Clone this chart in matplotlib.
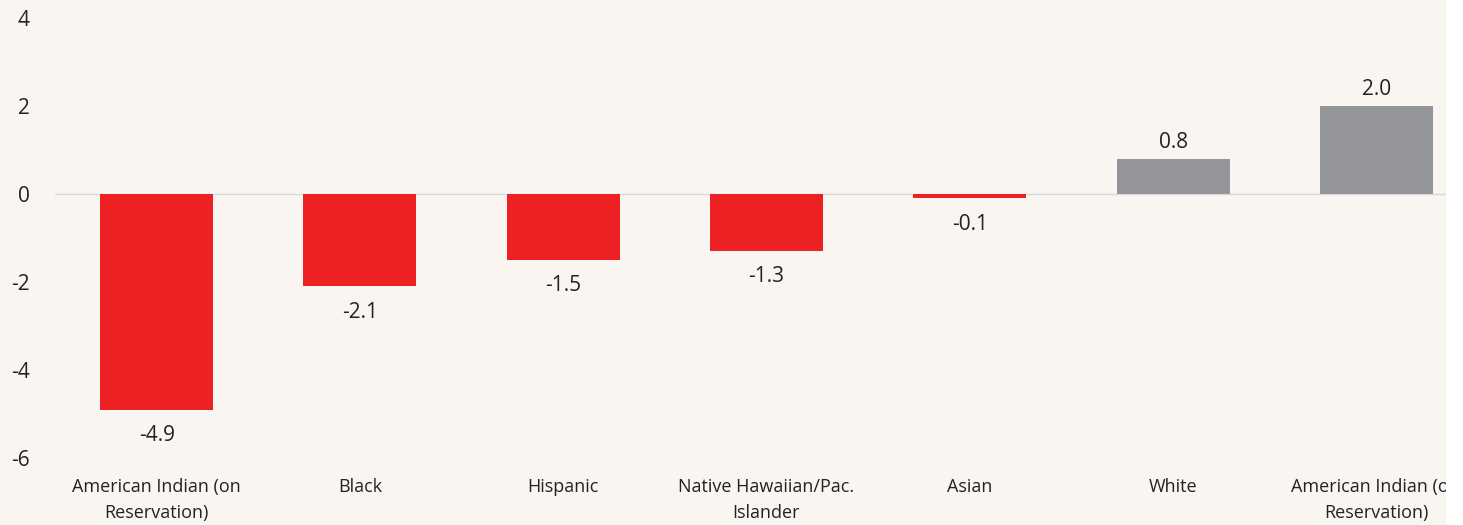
import matplotlib.pyplot as plt
from matplotlib.patches import Rectangle

categories = ["American Indian (on\nReservation)", "Black", "Hispanic",
              "Native Hawaiian/Pac.\nIslander", "Asian", "White",
              "American Indian (off\nReservation)"]
values = [-4.9, -2.1, -1.5, -1.3, -0.1, 0.8, 2.0]

bg = "#f9f6f1"
red = "#ed2024"
grey = "#939598"

plt.rcParams['font.family'] = ['Open Sans', 'DejaVu Sans']

fig = plt.figure(figsize=(14.63, 5.25), dpi=100, facecolor=bg)
ax = fig.add_axes([55 / 1463, 1 - 458 / 525, (1478 - 55) / 1463, 440 / 525])
ax.set_facecolor(bg)

x = range(len(values))
colors = [red if v < 0 else grey for v in values]
ax.bar(x, values, width=0.556, color=colors, zorder=2)
ax.axhline(0, color="#d9d9d9", lw=1, zorder=1)

for i, v in enumerate(values):
    if v < 0:
        ax.annotate(f"{v:.1f}", (i, v), xytext=(0, -11), textcoords="offset points",
                    ha="center", va="top", fontsize=15, color="#222222")
    else:
        ax.annotate(f"{v:.1f}", (i, v), xytext=(0, 4), textcoords="offset points",
                    ha="center", va="bottom", fontsize=15, color="#222222")

ax.set_xlim(-0.5, 6.5)
ax.set_ylim(-6, 4)
ax.set_yticks([-6, -4, -2, 0, 2, 4])
ax.set_yticklabels(["-6", "-4", "-2", "0", "2", "4"])
ax.set_xticks(list(x))
ax.set_xticklabels(categories, fontsize=13, color="#222222", linespacing=1.58)
ax.tick_params(axis="y", length=0, pad=18, labelsize=15, labelcolor="#222222")
ax.tick_params(axis="x", length=0, pad=14.5)
for s in ax.spines.values():
    s.set_visible(False)

# white strip on the right edge (page crop)
fig.add_artist(Rectangle((1446 / 1463, 0), 17 / 1463, 1, transform=fig.transFigure,
                         facecolor="white", edgecolor="none", zorder=10))

fig.savefig("out.png", dpi=100, facecolor=bg)
